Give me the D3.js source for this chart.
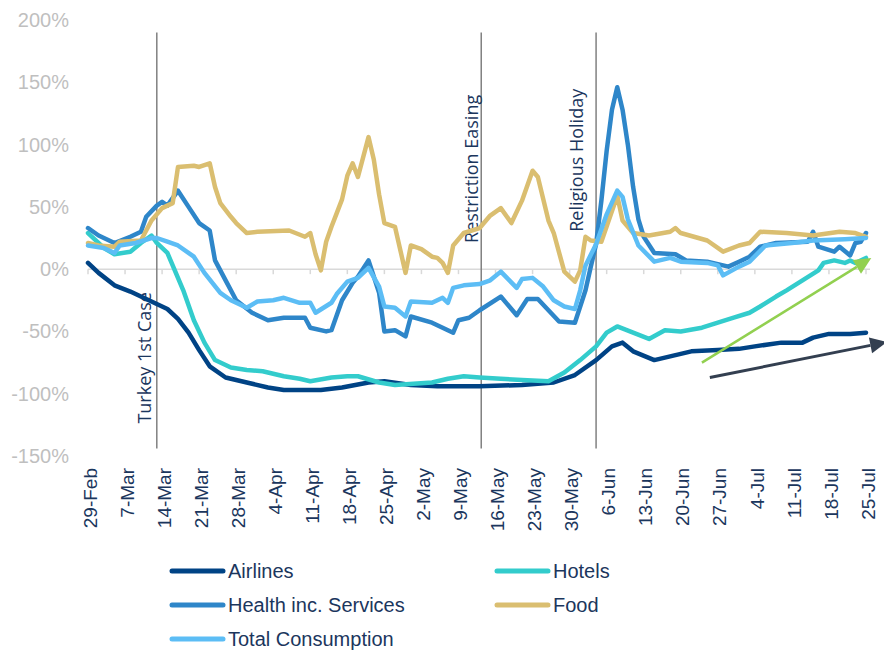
<!DOCTYPE html>
<html>
<head>
<meta charset="utf-8">
<script src="https://cdn.jsdelivr.net/npm/d3@7/dist/d3.min.js"></script>
<style>
  body { margin: 0; background: #fff; }
  svg { display: block; }
</style>
</head>
<body>
<script>
// days counted from 29-Feb-2020, values in % change
const START = new Date(2020, 1, 29);
const tickDays = d3.range(0, 148, 7);
const yTicks = [-150, -100, -50, 0, 50, 100, 150, 200];

const airlines = [[0,5],[2,-3],[5,-13],[8,-18],[11,-24],[13,-28],[15,-32],[17,-40],[19,-51],[21,-65],[23,-78],[26,-87],[30,-91],[34,-95],[37,-97],[44,-97],[48,-95],[53,-91],[56,-90],[61,-93],[66,-94],[70,-94],[74,-94],[82,-93],[88,-91],[92,-85],[96,-73],[99,-62],[101,-59],[103,-66],[107,-73],[111,-69],[114,-66],[119,-65],[123,-64],[126,-62],[131,-59],[135,-59],[137,-55],[140,-52],[144,-52],[147,-51]];

const hotels = [[0,29],[3,17],[5,12],[8,14],[10,21],[12,27],[13,21],[15,13],[16,3],[18,-17],[20,-41],[22,-59],[24,-73],[27,-79],[30,-81],[33,-82],[37,-86],[40,-88],[42,-90],[46,-87],[49,-86],[51,-86],[55,-91],[58,-93],[65,-91],[68,-88],[71,-86],[74,-87],[78,-88],[82,-89],[87,-90],[90,-83],[93,-73],[96,-62],[98,-51],[100,-46],[103,-51],[106,-56],[109,-49],[112,-50],[116,-47],[119,-43],[122,-39],[125,-35],[127,-30],[130,-22],[132,-17],[135,-9],[138,-1],[139,5],[141,7],[143,5],[144,7],[145,5],[147,9]];

const health = [[0,33],[2,27],[5,21],[8,26],[10,30],[11,42],[13,51],[14,54],[15,51],[17,63],[19,50],[21,37],[23,31],[24,7],[26,-9],[28,-25],[31,-35],[34,-41],[37,-39],[41,-39],[42,-47],[45,-50],[46,-49],[48,-25],[50,-11],[51,-6],[53,7],[55,-19],[56,-50],[58,-49],[60,-54],[61,-38],[65,-43],[67,-47],[69,-51],[70,-41],[72,-39],[74,-33],[78,-22],[81,-37],[83,-24],[85,-24],[87,-33],[89,-42],[92,-43],[94,-17],[95,2],[96,20],[97,55],[98,95],[99,128],[100,146],[101,128],[102,100],[103,66],[104,40],[105,26],[107,13],[111,12],[113,7],[117,6],[121,2],[123,6],[125,10],[127,18],[130,21],[136,22],[137,30],[138,18],[141,14],[142,18],[144,11],[145,21],[146,22],[147,29]];

const food = [[0,21],[2,19],[5,18],[6,22],[10,23],[12,39],[14,49],[16,53],[17,82],[20,83],[21,82],[23,85],[24,66],[25,53],[27,42],[28,37],[30,29],[32,30],[38,31],[41,26],[42,29],[43,12],[44,-1],[45,22],[46,34],[47,45],[48,56],[49,75],[50,85],[51,74],[53,106],[54,88],[55,60],[56,37],[58,34],[60,-3],[61,19],[63,16],[65,10],[66,9],[67,5],[68,-3],[69,19],[71,29],[74,33],[76,43],[78,49],[80,37],[82,55],[84,79],[85,74],[87,39],[88,29],[90,-2],[92,-10],[93,-1],[94,26],[95,23],[97,22],[100,59],[101,39],[103,29],[106,27],[110,30],[111,33],[112,29],[117,23],[120,14],[123,19],[125,21],[127,30],[132,29],[137,27],[142,30],[145,29],[147,26]];

const total = [[0,19],[3,17],[5,13],[6,19],[9,21],[12,25],[13,25],[15,22],[17,19],[20,10],[22,-3],[25,-19],[27,-25],[30,-31],[32,-26],[35,-25],[37,-23],[40,-27],[42,-27],[43,-35],[46,-27],[47,-20],[49,-10],[51,-7],[53,1],[55,-14],[56,-30],[58,-31],[60,-38],[61,-26],[65,-27],[67,-23],[68,-27],[69,-15],[71,-13],[74,-12],[76,-9],[78,-2],[81,-15],[82,-8],[84,-7],[86,-14],[88,-25],[90,-30],[92,-32],[93,-17],[94,3],[96,20],[98,44],[100,63],[101,58],[102,40],[104,19],[107,6],[110,9],[112,6],[117,5],[119,3],[120,-5],[123,2],[125,6],[128,19],[133,21],[137,23],[143,24],[147,25]];

const seriesNames = ['Airlines', 'Hotels', 'Health inc. Services', 'Food', 'Total Consumption'];
const seriesData = [airlines, hotels, health, food, total];

const events = [
  { label: 'Turkey 1st Case', day: 13 },
  { label: 'Restriction Easing', day: 74.3 },
  { label: 'Religious Holiday', day: 96 }
];

// trend arrows drawn at the end: [fromDay, fromValue, toDay, toValue]
const trendArrows = [[116, -75, 148, 9], [117.5, -87, 151, -58.5]];

//
// Layout
//

const W = 884, H = 650;
const colors = ['#004385', '#33cccc', '#2e86c9', '#dabe70', '#5cbdf5'];
const navy = '#1b365d';
const arrowColors = ['#92d050', '#333f50'];

const svg = d3.select('body').append('svg')
  .attr('width', W).attr('height', H);
svg.append('rect').attr('width', W).attr('height', H).attr('fill', '#fff');

const x = d3.scaleLinear().domain([0, 147]).range([88, 866]);
const y = d3.scaleLinear().domain([-150, 200]).range([456, 20]);

// y labels, no axis line
svg.append('g')
  .selectAll('text')
  .data(yTicks)
  .join('text')
  .attr('x', 69)
  .attr('y', d => y(d))
  .attr('dy', '0.35em')
  .attr('text-anchor', 'end')
  .attr('font-family', 'Liberation Sans, Arial, sans-serif')
  .attr('font-size', 20)
  .attr('fill', '#bfbfbf')
  .text(d => d + '%');

// zero line with small ticks
const axis = svg.append('g');
axis.append('line')
  .attr('x1', x(0)).attr('x2', 870)
  .attr('y1', y(0)).attr('y2', y(0))
  .attr('stroke', '#d9d9d9').attr('stroke-width', 1.5);
axis.selectAll('.tick')
  .data(tickDays)
  .join('line')
  .attr('x1', d => x(d)).attr('x2', d => x(d))
  .attr('y1', y(0)).attr('y2', y(0) + 5)
  .attr('stroke', '#d9d9d9').attr('stroke-width', 1.5);

// date labels along the bottom
const fmt = d3.timeFormat('%-d-%b');
svg.append('g')
  .selectAll('text')
  .data(tickDays)
  .join('text')
  .attr('transform', d => `translate(${x(d) + 2},468) rotate(-90)`)
  .attr('dy', '0.35em')
  .attr('text-anchor', 'end')
  .attr('font-family', 'Liberation Sans, Arial, sans-serif')
  .attr('font-size', 19)
  .attr('fill', navy)
  .text(d => fmt(d3.timeDay.offset(START, d)));

// event markers
const labelPos = { 'Turkey 1st Case': [-6, -124], 'Restriction Easing': [-3, 21], 'Religious Holiday': [-13, 30] };
const ev = svg.append('g');
ev.selectAll('line')
  .data(events)
  .join('line')
  .attr('x1', d => x(d.day)).attr('x2', d => x(d.day))
  .attr('y1', y(190)).attr('y2', y(-144))
  .attr('stroke', '#808080').attr('stroke-width', 1.5);
ev.selectAll('text')
  .data(events)
  .join('text')
  .attr('transform', d => `translate(${x(d.day) + labelPos[d.label][0]},${y(labelPos[d.label][1])}) rotate(-90)`)
  .attr('font-family', 'Open Sans, sans-serif')
  .attr('font-size', 18)
  .attr('fill', navy)
  .text(d => d.label);

// series
const line = d3.line().x(d => x(d[0])).y(d => y(d[1]));
svg.append('g')
  .selectAll('path')
  .data(seriesData)
  .join('path')
  .attr('d', line)
  .attr('fill', 'none')
  .attr('stroke', (d, i) => colors[i])
  .attr('stroke-width', 4.5)
  .attr('stroke-linejoin', 'round')
  .attr('stroke-linecap', 'round');

// arrows
trendArrows.forEach((a, i) => {
  const x0 = x(a[0]), y0 = y(a[1]), x1 = x(a[2]), y1 = y(a[3]);
  const ang = Math.atan2(y1 - y0, x1 - x0);
  const len = 17, hw = 8;
  const bx = x1 - len * Math.cos(ang), by = y1 - len * Math.sin(ang);
  svg.append('line')
    .attr('x1', x0).attr('y1', y0).attr('x2', bx).attr('y2', by)
    .attr('stroke', arrowColors[i]).attr('stroke-width', i ? 3 : 2.5);
  svg.append('path')
    .attr('d', `M${x1},${y1}L${bx - hw * Math.sin(ang)},${by + hw * Math.cos(ang)}L${bx + hw * Math.sin(ang)},${by - hw * Math.cos(ang)}Z`)
    .attr('fill', arrowColors[i]);
});

// legend
const legendPos = [[172, 571], [497, 571], [172, 605], [497, 605], [172, 639]];
const lg = svg.append('g')
  .selectAll('g')
  .data(seriesNames)
  .join('g')
  .attr('transform', (d, i) => `translate(${legendPos[i][0]},${legendPos[i][1]})`);
lg.append('line')
  .attr('x1', 0).attr('x2', 51)
  .attr('stroke', (d, i) => colors[i])
  .attr('stroke-width', 5)
  .attr('stroke-linecap', 'round');
lg.append('text')
  .attr('x', 56)
  .attr('dy', '0.35em')
  .attr('font-family', 'Liberation Sans, Arial, sans-serif')
  .attr('font-size', 20)
  .attr('fill', navy)
  .text(d => d);
</script>
</body>
</html>
